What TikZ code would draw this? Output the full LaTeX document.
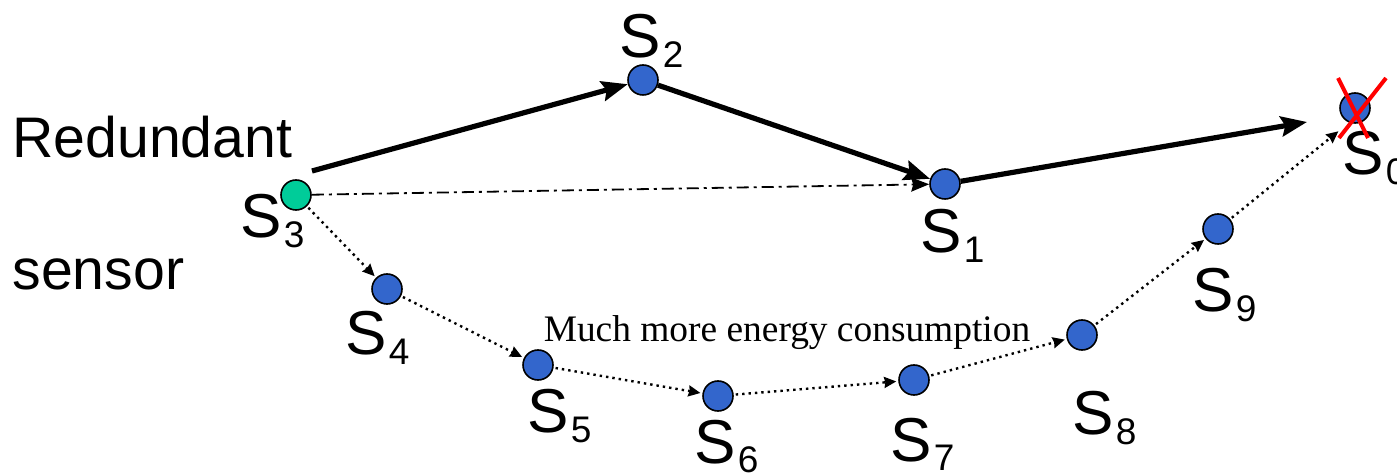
\documentclass[tikz,border=0pt]{standalone}
\usepackage{fontspec}
\setmainfont{Liberation Sans}
\newfontfamily\timesfont{Liberation Serif}
\usetikzlibrary{arrows.meta}

\definecolor{nodeblue}{RGB}{51,102,204}
\definecolor{nodegreen}{RGB}{0,204,153}
\newcommand\snum[1]{\kern1pt\raisebox{-5pt}{\fontsize{18.5}{18.5}\selectfont #1}}

\begin{document}
\begin{tikzpicture}[
  x=0.5pt, y=-0.5pt,
  sensor/.style={circle, draw, line width=0.8pt, fill=nodeblue, minimum size=15pt, inner sep=0pt},
  tag/.style={font=\fontsize{31}{31}\selectfont, inner sep=0pt, anchor=base west},
  word/.style={font=\fontsize{28.6}{28.6}\selectfont, inner sep=0pt, anchor=base west},
  hop/.style={-{Stealth[length=13pt,width=10pt,inset=2pt]}, line width=2.6pt},
  detour/.style={-{Stealth[length=6pt,width=5.5pt,inset=0.5pt]}, line width=1.2pt, dotted, shorten <=1pt, shorten >=1pt},
  direct/.style={-{Stealth[length=9pt,width=7pt,inset=1pt]}, line width=0.9pt,
                 dash pattern=on 6pt off 2.5pt on 1.5pt off 2.5pt},
]
  \useasboundingbox (0,0) rectangle (1397,475);

  % sensors
  \node[sensor, fill=nodegreen] (s3) at (296,195) {};
  \node[sensor] (s2) at (643,80) {};
  \node[sensor] (s1) at (945,184) {};
  \node[sensor] (s0) at (1355,108) {};
  \node[sensor] (s4) at (387,289) {};
  \node[sensor] (s5) at (538,365) {};
  \node[sensor] (s6) at (718,396) {};
  \node[sensor] (s7) at (914,380) {};
  \node[sensor] (s8) at (1082,335) {};
  \node[sensor] (s9) at (1218,229) {};

  % labels
  \node[tag] (l3) at (240,238) {S\snum{3}};
  \node[tag] (l2) at (619,58) {S\snum{2}};
  \node[tag] (l1) at (920,253) {S\snum{1}};
  \node[tag] (l0) at (1342,175) {S\snum{0}};
  \node[tag] (l4) at (345,355) {S\snum{4}};
  \node[tag] (l5) at (527,433) {S\snum{5}};
  \node[tag] (l6) at (694,463) {S\snum{6}};
  \node[tag] (l7) at (890,461) {S\snum{7}};
  \node[tag] (l8) at (1072,435) {S\snum{8}};
  \node[tag] (l9) at (1192,312) {S\snum{9}};

  \node[word] (red) at (12,158) {Redundant};
  \node[word] (sen) at (12,290) {sensor};

  % original route
  \coordinate (start) at ([shift={(16,-24)}]s3.center);
  \draw[hop] (start) -- (s2);
  \draw[hop] (s2) -- (s1);
  \draw[hop] (s1) -- ([shift={(-48,14)}]s0.center);

  % shortcut
  \draw[direct] (s3) -- (s1);

  % detour after S0 fails
  \draw[detour] (s3) -- (s4);
  \draw[detour] (s4) -- (s5);
  \draw[detour] (s5) -- (s6);
  \draw[detour] (s6) -- (s7);
  \draw[detour] (s7) -- (s8);
  \draw[detour] (s8) -- (s9);
  \draw[detour] (s9) -- ([shift={(-15,22)}]s0.center);

  \node[font=\timesfont\fontsize{18.7}{18.7}\selectfont, inner sep=0pt] (cost) at (787,333)
    {Much more energy consumption};

  % failed sink
  \draw[red, line width=2pt] (1338,78) -- (1368,138) (1386,78) -- (1339,138);
\end{tikzpicture}
\end{document}
